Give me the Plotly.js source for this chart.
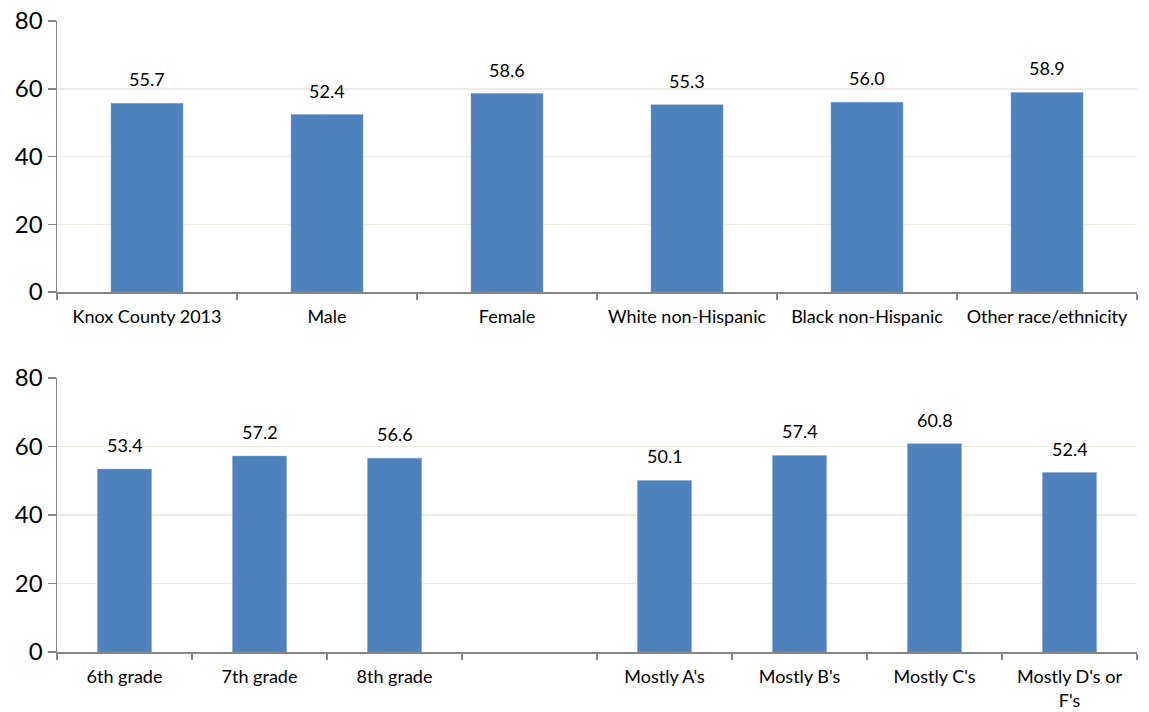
<!DOCTYPE html>
<html>
<head>
<meta charset="utf-8">
<script src="https://cdn.plot.ly/plotly-3.0.1.min.js"></script>
<style>html,body{margin:0;padding:0;background:#fff;}#chart{width:1149px;height:712px;}</style>
</head>
<body>
<div id="chart"></div>
<script>
var topCategories = ["Knox County 2013", "Male", "Female", "White non-Hispanic", "Black non-Hispanic", "Other race/ethnicity"];
var topValues = [55.7, 52.4, 58.6, 55.3, 56.0, 58.9];
var bottomCategories = ["6th grade", "7th grade", "8th grade", " ", "Mostly A's", "Mostly B's", "Mostly C's", "Mostly D's or<br>F's"];
var bottomValues = [53.4, 57.2, 56.6, null, 50.1, 57.4, 60.8, 52.4];
var yTicks = [0, 20, 40, 60, 80];

var barColor = "#4F81BD";
var font = "Lato, Open Sans, sans-serif";

var traces = [
  {type: "bar", x: topCategories, y: topValues, xaxis: "x", yaxis: "y",
   marker: {color: barColor, line: {color: "#7FA3D0", width: 0.5}}, width: 0.4, hoverinfo: "x+y"},
  {type: "bar", x: bottomCategories, y: bottomValues, xaxis: "x2", yaxis: "y2",
   marker: {color: barColor, line: {color: "#7FA3D0", width: 0.5}}, width: 0.4, hoverinfo: "x+y"}
];

var annotations = [];
topCategories.forEach(function(c, i) {
  annotations.push({xref: "x", yref: "y", x: c, y: topValues[i], text: topValues[i].toFixed(1),
    showarrow: false, yanchor: "bottom", yshift: 11, font: {family: font, size: 18, color: "#000"}});
});
bottomCategories.forEach(function(c, i) {
  if (bottomValues[i] === null) return;
  annotations.push({xref: "x2", yref: "y2", x: c, y: bottomValues[i], text: bottomValues[i].toFixed(1),
    showarrow: false, yanchor: "bottom", yshift: 11, font: {family: font, size: 18, color: "#000"}});
});

function xAxis(anchor) {
  return {anchor: anchor, type: "category", showline: true, linecolor: "#868686", linewidth: 1.5,
    ticks: "outside", tickson: "boundaries", ticklen: 6, tickcolor: "#868686", tickwidth: 1.5,
    ticklabelstandoff: 8,
    showgrid: false, zeroline: false, tickfont: {family: font, size: 18, color: "#000"},
    fixedrange: true};
}
function yAxis(anchor, domain) {
  return {anchor: anchor, domain: domain, range: [0, 80], tickvals: yTicks, ticktext: yTicks.map(String),
    showline: true, linecolor: "#868686", linewidth: 1.5, ticks: "outside", ticklen: 8,
    tickcolor: "#868686", tickwidth: 1.5, showgrid: true, gridcolor: "#EEECE1", gridwidth: 1.5,
    zeroline: false, tickfont: {family: font, size: 24, color: "#000"}, fixedrange: true};
}

var layout = {
  width: 1149, height: 712,
  margin: {l: 57, r: 12, t: 21, b: 60},
  paper_bgcolor: "#fff", plot_bgcolor: "#fff",
  showlegend: false,
  bargap: 0.6,
  xaxis: xAxis("y"),
  yaxis: yAxis("x", [0.5705, 1]),
  xaxis2: xAxis("y2"),
  yaxis2: yAxis("x2", [0, 0.4342]),
  annotations: annotations
};

Plotly.newPlot("chart", traces, layout, {displayModeBar: false, staticPlot: true});
</script>
</body>
</html>
